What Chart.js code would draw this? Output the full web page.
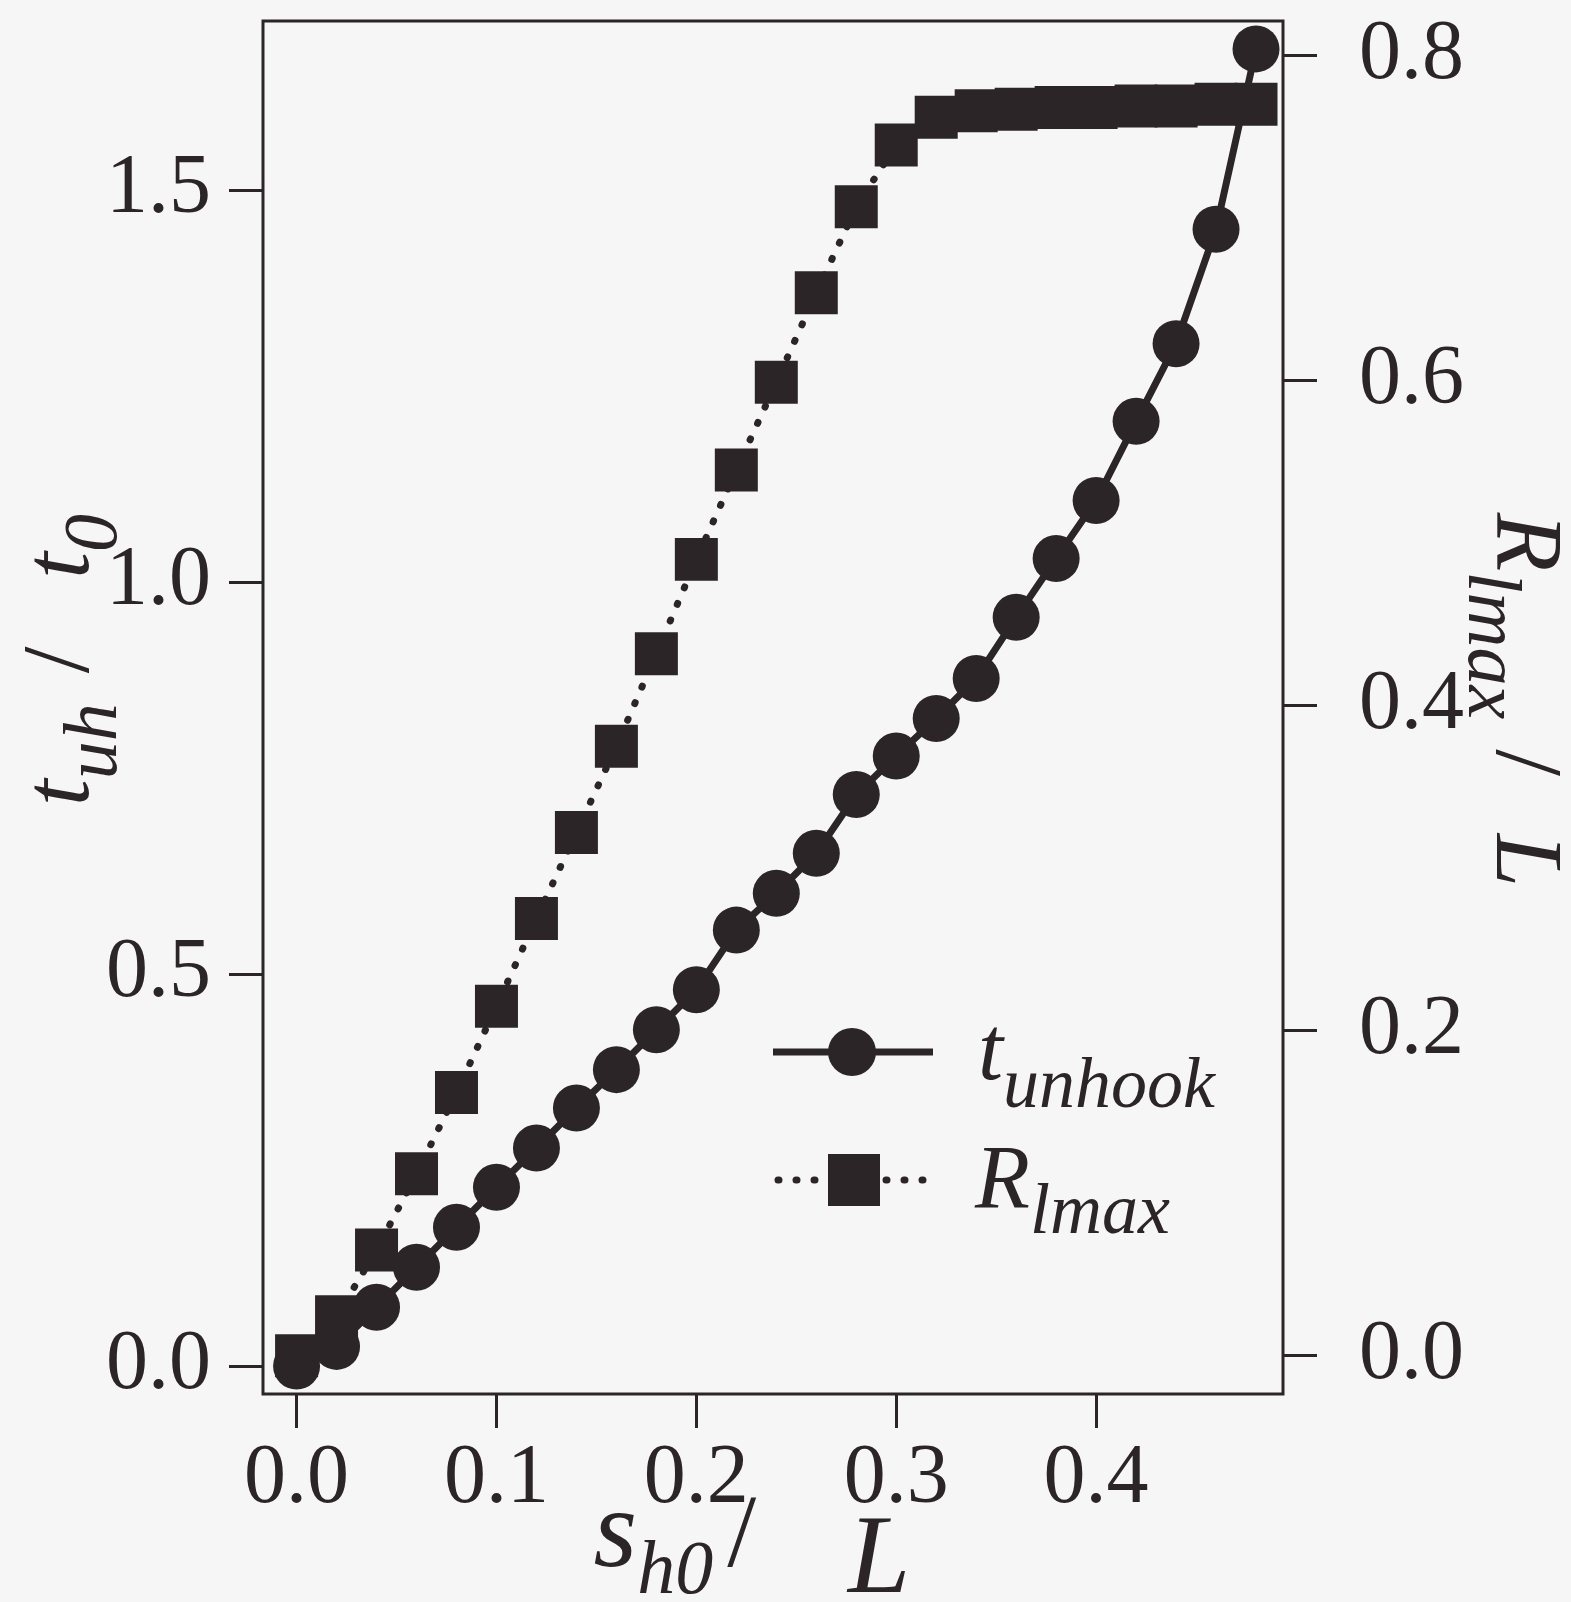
<!DOCTYPE html>
<html>
<head>
<meta charset="utf-8">
<script src="https://cdn.jsdelivr.net/npm/chart.js@4.4.1/dist/chart.umd.min.js"></script>
<style>
  html, body { margin: 0; padding: 0; background: #f7f6f7; }
  #wrap { width: 1571px; height: 1602px; }
</style>
</head>
<body>
<div id="wrap"><canvas id="chart" width="1571" height="1602"></canvas></div>
<script>
// s_h0 / L
const sh0 = [0.00, 0.02, 0.04, 0.06, 0.08, 0.10, 0.12, 0.14, 0.16, 0.18, 0.20, 0.22, 0.24,
             0.26, 0.28, 0.30, 0.32, 0.34, 0.36, 0.38, 0.40, 0.42, 0.44, 0.46, 0.48];
// t_unhook (left axis, t_uh / t_0)
const tUnhook = [0.000, 0.025, 0.075, 0.126, 0.177, 0.228, 0.278, 0.329, 0.378, 0.429, 0.480, 0.556, 0.603,
                 0.654, 0.729, 0.778, 0.826, 0.877, 0.955, 1.030, 1.104, 1.205, 1.304, 1.450, 1.680];
// R_lmax (right axis, R_lmax / L)
const rLmax = [0.000, 0.024, 0.065, 0.112, 0.162, 0.215, 0.269, 0.322, 0.375, 0.432, 0.490, 0.545, 0.599,
               0.654, 0.707, 0.745, 0.762, 0.766, 0.767, 0.768, 0.768, 0.769, 0.769, 0.770, 0.770];

const xTicks = [0.0, 0.1, 0.2, 0.3, 0.4];
const tTicks = [0.0, 0.5, 1.0, 1.5];
const rTicks = [0.0, 0.2, 0.4, 0.6, 0.8];

const INK = '#2b2528';
const TICK_FONT = { family: '"Liberation Serif", "Times New Roman", serif', size: 84 };
const MAIN = 'italic 96px "Liberation Serif"';
const SUB = 'italic 76px "Liberation Serif"';
const SLASH = '96px "Liberation Serif"';
const X_MAIN = 'italic 112px "Liberation Serif"';
const X_SUB = 'italic 76px "Liberation Serif"';
const X_SLASH = '104px "Liberation Serif"';
const LEG_MAIN = 'italic 90px "Liberation Serif"';
const LEG_SUB = 'italic 72px "Liberation Serif"';

function fixedTicks(values) {
  return scale => { scale.ticks = values.map(v => ({ value: v })); };
}

function noPad(size, key) {
  return scale => {
    scale[key] = size;
    scale.paddingTop = 0; scale.paddingBottom = 0;
    scale.paddingLeft = 0; scale.paddingRight = 0;
  };
}

function axisGrid() {
  return { drawOnChartArea: false, drawTicks: true, tickLength: 34, tickWidth: 3, tickColor: INK };
}

// text with subscripts, drawn centred (or left aligned) at x,y, rotated
function drawRich(ctx, parts, x, y, angle, align) {
  ctx.save();
  ctx.translate(x, y);
  ctx.rotate(angle);
  ctx.fillStyle = INK;
  ctx.textBaseline = 'alphabetic';
  ctx.textAlign = 'left';
  let w = 0;
  parts.forEach(p => {
    if (p.gap) { w += p.gap; return; }
    ctx.font = p.font;
    w += ctx.measureText(p.text).width;
  });
  let cx = align === 'left' ? 0 : -w / 2;
  parts.forEach(p => {
    if (p.gap) { cx += p.gap; return; }
    ctx.font = p.font;
    ctx.fillText(p.text, cx, p.dy || 0);
    cx += ctx.measureText(p.text).width;
  });
  ctx.restore();
}

const decorations = {
  id: 'decorations',
  beforeDatasetsDraw(chart) {
    const { ctx, chartArea: a } = chart;
    ctx.save();
    ctx.strokeStyle = INK;
    ctx.lineWidth = 3;
    ctx.strokeRect(a.left, a.top, a.right - a.left, a.bottom - a.top);
    ctx.restore();
  },
  afterDraw(chart) {
    const ctx = chart.ctx;
    // axis titles
    drawRich(ctx, [
      { text: 't', font: MAIN }, { text: 'uh', font: SUB, dy: 28 }, { gap: 30 },
      { text: '/', font: SLASH }, { gap: 68 },
      { text: 't', font: MAIN }, { text: '0', font: SUB, dy: 28 }
    ], 88, 660, -Math.PI / 2);
    drawRich(ctx, [
      { text: 'R', font: MAIN }, { text: 'lmax', font: SUB, dy: 28 }, { gap: 30 },
      { text: '/', font: SLASH }, { gap: 58 },
      { text: 'L', font: MAIN }
    ], 1497, 700, Math.PI / 2);
    drawRich(ctx, [
      { text: 's', font: X_MAIN }, { text: 'h0', font: X_SUB, dy: 27 }, { gap: 14 },
      { text: '/', font: X_SLASH }, { gap: 92 },
      { text: 'L', font: X_MAIN, dy: 26 }
    ], 752, 1566, 0);

    // legend
    const ds = chart.data.datasets;
    ctx.save();
    ctx.strokeStyle = INK;
    ctx.fillStyle = INK;
    ctx.lineWidth = ds[0].borderWidth;
    ctx.beginPath(); ctx.moveTo(773, 1052); ctx.lineTo(933, 1052); ctx.stroke();
    ctx.beginPath(); ctx.arc(852, 1052, 24, 0, Math.PI * 2); ctx.fill();
    ctx.lineWidth = ds[1].borderWidth;
    ctx.lineCap = ds[1].borderCapStyle;
    ctx.setLineDash(ds[1].borderDash);
    ctx.beginPath(); ctx.moveTo(778, 1180); ctx.lineTo(928, 1180); ctx.stroke();
    ctx.setLineDash([]);
    ctx.fillRect(828, 1154, 52, 52);
    ctx.restore();
    drawRich(ctx, [{ text: 't', font: LEG_MAIN }, { text: 'unhook', font: LEG_SUB, dy: 28 }], 978, 1079, 0, 'left');
    drawRich(ctx, [{ text: 'R', font: LEG_MAIN }, { text: 'lmax', font: LEG_SUB, dy: 25 }], 975, 1208, 0, 'left');
  }
};

new Chart(document.getElementById('chart'), {
  type: 'line',
  data: {
    datasets: [
      {
        label: 't_unhook',
        data: sh0.map((x, i) => ({ x, y: tUnhook[i] })),
        yAxisID: 'y',
        borderColor: INK,
        backgroundColor: INK,
        borderWidth: 7,
        tension: 0,
        pointStyle: 'circle',
        pointRadius: 23.5,
        pointBackgroundColor: INK,
        pointBorderWidth: 0,
        clip: false
      },
      {
        label: 'R_lmax',
        data: sh0.map((x, i) => ({ x, y: rLmax[i] })),
        yAxisID: 'y2',
        borderColor: INK,
        backgroundColor: INK,
        borderWidth: 7,
        borderDash: [1, 17],
        borderCapStyle: 'round',
        tension: 0,
        pointStyle: 'rect',
        pointRadius: 30.4,
        pointBackgroundColor: INK,
        pointBorderWidth: 0,
        clip: false
      }
    ]
  },
  options: {
    responsive: false,
    animation: false,
    events: [],
    layout: { autoPadding: false, padding: { top: 21, left: 0, right: 0, bottom: 0 } },
    plugins: { legend: { display: false }, tooltip: { enabled: false } },
    scales: {
      x: {
        type: 'linear',
        position: 'bottom',
        min: -0.0168,
        max: 0.4935,
        afterBuildTicks: fixedTicks(xTicks),
        afterFit: noPad(208, 'height'),
        border: { display: false },
        grid: axisGrid(),
        ticks: { font: TICK_FONT, color: INK, padding: 2, maxRotation: 0, callback: v => v.toFixed(1) }
      },
      y: {
        type: 'linear',
        position: 'left',
        min: -0.0357,
        max: 1.7156,
        afterBuildTicks: fixedTicks(tTicks),
        afterFit: noPad(263, 'width'),
        border: { display: false },
        grid: axisGrid(),
        ticks: { font: TICK_FONT, color: INK, padding: 18, callback: v => v.toFixed(1) }
      },
      y2: {
        type: 'linear',
        position: 'right',
        min: -0.0236,
        max: 0.8213,
        afterBuildTicks: fixedTicks(rTicks),
        afterFit: noPad(288, 'width'),
        border: { display: false },
        grid: axisGrid(),
        ticks: { font: TICK_FONT, color: INK, padding: 42, callback: v => v.toFixed(1) }
      }
    }
  },
  plugins: [decorations]
});
</script>
</body>
</html>
